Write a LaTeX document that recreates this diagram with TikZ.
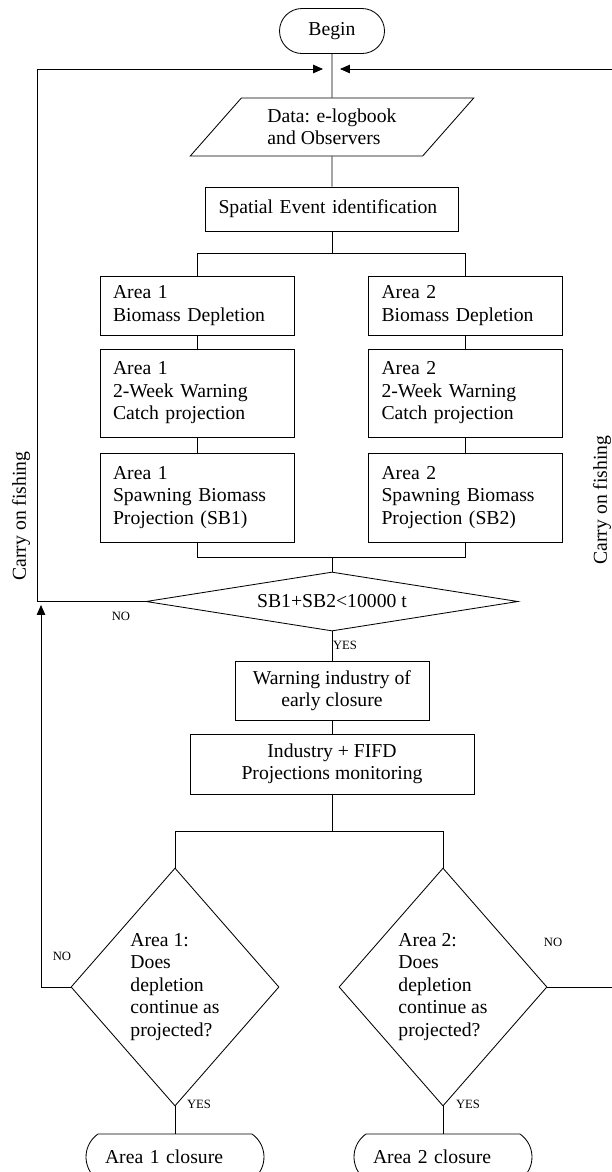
\documentclass[tikz,border=0pt]{standalone}
\usepackage{fontspec}
\setmainfont{Liberation Serif}
\usetikzlibrary{shapes.geometric,shapes.misc,arrows.meta}
\newlength\pxu
\setlength\pxu{0.025cm}
\begin{document}
\begin{tikzpicture}[x=\pxu,y=-\pxu,line width=0.6pt,
  font=\fontsize{14}{16}\selectfont,
  box/.style={draw,rectangle,inner xsep=13\pxu,inner ysep=0pt,align=left},
  midbox/.style={draw,rectangle,inner sep=0pt,align=center},
  pill/.style={draw,rounded rectangle,inner sep=0pt},
  ask/.style={draw,diamond,inner sep=0pt,align=left},
  lbl/.style={font=\fontsize{9}{10}\selectfont,inner sep=0pt},
  back/.style={-{Triangle[length=7pt,width=6pt]}}]
\useasboundingbox (0,0) rectangle (612,1172);
\node[pill,minimum width=105\pxu,minimum height=45\pxu] (begin) at (332,31) {Begin};
\node[draw,trapezium,trapezium left angle=45,trapezium right angle=135,trapezium stretches=true,
  minimum width=284\pxu,minimum height=58\pxu,inner sep=0pt,align=left] (data) at (332,127) {Data: e-logbook\\and Observers};
\node[box,text width=227\pxu,minimum height=44\pxu] (spatial) at (332,209) {Spatial Event identification};
\node[box,text width=168\pxu,minimum height=59\pxu] (bio1) at (197,305.5) {Area 1\\Biomass Depletion};
\node[box,text width=168\pxu,minimum height=88\pxu] (warn1) at (197,393) {Area 1\\2-Week Warning\\Catch projection};
\node[box,text width=168\pxu,minimum height=89\pxu] (spawn1) at (197,497.5) {Area 1\\Spawning Biomass\\Projection (SB1)};
\node[box,text width=168\pxu,minimum height=59\pxu] (bio2) at (465.5,305.5) {Area 2\\Biomass Depletion};
\node[box,text width=168\pxu,minimum height=88\pxu] (warn2) at (465.5,393) {Area 2\\2-Week Warning\\Catch projection};
\node[box,text width=168\pxu,minimum height=89\pxu] (spawn2) at (465.5,497.5) {Area 2\\Spawning Biomass\\Projection (SB2)};
\node[draw,diamond,aspect=6.3,inner sep=0pt,minimum width=372\pxu,minimum height=59\pxu] (sb) at (332,601.5) {SB1+SB2<10000 t};
\node[midbox,minimum width=194\pxu,minimum height=59\pxu] (alert) at (332,690.5) {Warning industry of\\early closure};
\node[midbox,minimum width=284\pxu,minimum height=60\pxu] (monitor) at (332,764) {Industry + FIFD\\Projections monitoring};
\node[ask,aspect=0.87,minimum width=208\pxu,minimum height=238\pxu] (ask1) at (175,987) {Area 1:\\Does\\depletion\\continue as\\projected?};
\node[ask,aspect=0.87,minimum width=208\pxu,minimum height=238\pxu] (ask2) at (443,987) {Area 2:\\Does\\depletion\\continue as\\projected?};
\node[pill,rounded rectangle arc length=110,minimum width=178\pxu,minimum height=46\pxu,text width=140\pxu,align=left] (close1) at (175,1157) {Area 1 closure};
\node[pill,rounded rectangle arc length=110,minimum width=178\pxu,minimum height=46\pxu,text width=140\pxu,align=left] (close2) at (443,1157) {Area 2 closure};
\node[lbl] (no1) at (121,616) {NO};
\node[lbl] (yes1) at (345,645) {YES};
\node[lbl] (no2) at (62,956) {NO};
\node[lbl] (no3) at (553,942) {NO};
\node[lbl] (yes2) at (199,1104) {YES};
\node[lbl] (yes3) at (468,1104) {YES};
\node[rotate=90] (carry1) at (21,516) {Carry on fishing};
\node[rotate=90] (carry2) at (602,500) {Carry on fishing};
\coordinate (tl) at (37,69);
\coordinate (tr) at (616,69);
\coordinate (inl) at (323,69);
\coordinate (inr) at (340,69);
\coordinate (backl) at (41,605);
\coordinate (split1) at (332,253);
\coordinate (join) at (332,557);
\coordinate (split2) at (332,831);
\draw (begin.south) -- (data.north);
\draw (data.south) -- (spatial.north);
\draw (spatial.south) -- (split1);
\draw (bio1.north) -- (bio1.north |- split1) -- (bio2.north |- split1) -- (bio2.north);
\draw (bio1) -- (warn1) -- (spawn1);
\draw (bio2) -- (warn2) -- (spawn2);
\draw (spawn1.south) -- (spawn1.south |- join) -- (spawn2.south |- join) -- (spawn2.south);
\draw (join) -- (sb.north);
\draw[back] (sb.west) -| (tl) -- (inl);
\draw (sb.south) -- (alert.north);
\draw (alert) -- (monitor);
\draw (monitor.south) -- (split2);
\draw (ask1.north) -- (ask1.north |- split2) -- (ask2.north |- split2) -- (ask2.north);
\draw (ask1.south) -- (close1.north);
\draw (ask2.south) -- (close2.north);
\draw[back] (ask1.west) -| (backl);
\draw[back] (ask2.east) -| (tr) -- (inr);
\end{tikzpicture}
\end{document}
